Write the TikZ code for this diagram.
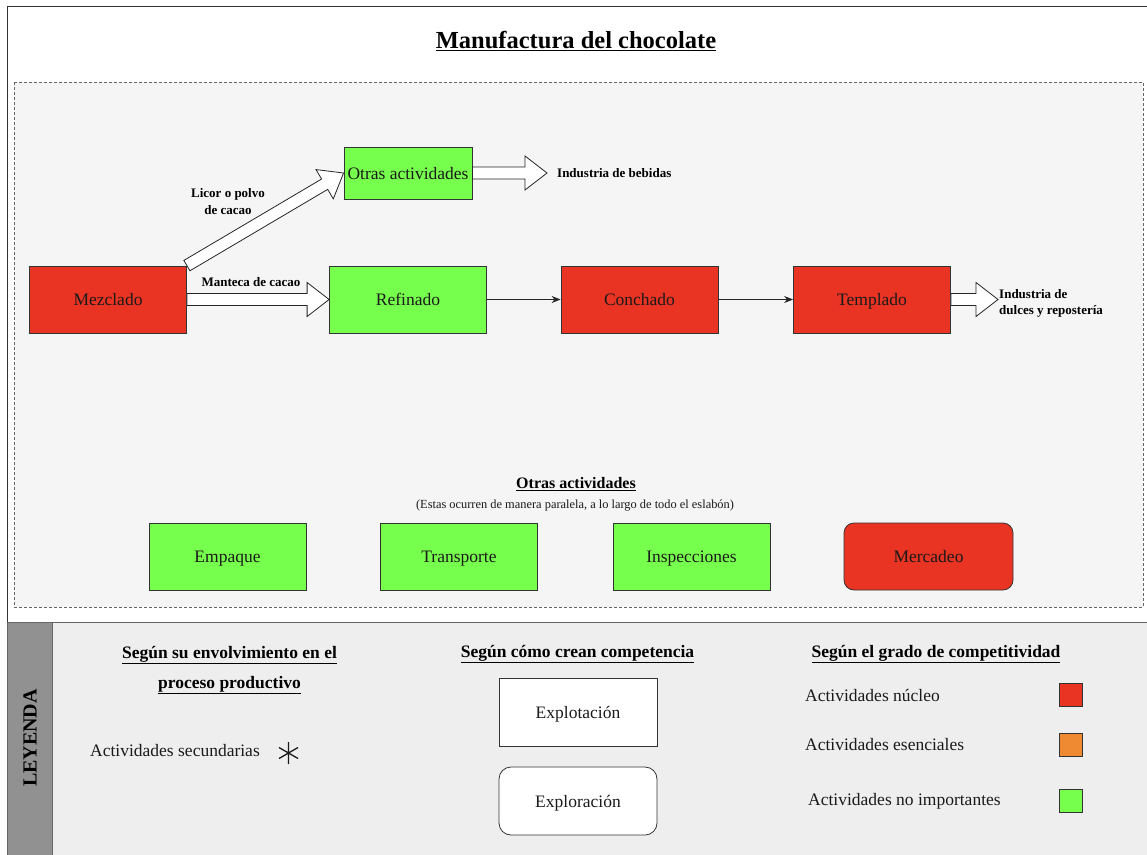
\documentclass[tikz,border=0pt]{standalone}
\usepackage{fontspec}
\setmainfont{Liberation Serif}
\usetikzlibrary{calc,arrows.meta}

\definecolor{core}{HTML}{E93323}
\definecolor{minor}{HTML}{77FF4D}
\definecolor{essential}{HTML}{EF8A33}
\definecolor{panel}{HTML}{F5F5F5}
\definecolor{legendbg}{HTML}{EEEEEE}
\definecolor{strip}{HTML}{919191}
\definecolor{ink}{HTML}{1A1A1A}

\tikzset{
  stagebox/.style={draw=black!80, line width=0.8pt, minimum width=157pt, minimum height=67pt,
    inner sep=0pt, text height=16pt, text depth=4pt, text=ink,
    font=\fontsize{17.5}{20}\selectfont},
  corestage/.style={stagebox, fill=core},
  minorstage/.style={stagebox, fill=minor},
  fatarrow/.style={draw=black!85, fill=white, line width=0.8pt, line join=miter},
  thinarrow/.style={draw=black!85, line width=0.8pt, -{Stealth[length=9pt,width=7pt]}},
  flowlbl/.style={inner sep=0pt, font=\bfseries\fontsize{13}{17}\selectfont},
  legendhead/.style={inner sep=0pt, font=\bfseries\fontsize{17.5}{30}\selectfont},
  legendtxt/.style={inner sep=0pt, text=ink, font=\fontsize{17.5}{20}\selectfont},
  swatch/.style={draw=black!80, line width=0.8pt, minimum width=23pt, minimum height=23pt, inner sep=0pt},
}

% hollow block arrow from #1 to #2 (shaft half-width 6, head 22 long, 17 half-wide)
\newcommand\fatarrow[2]{%
  \draw[fatarrow] let \p1=(#1), \p2=(#2),
      \n1={atan2(\y2-\y1,\x2-\x1)}, \n2={veclen(\x2-\x1,\y2-\y1)} in
    {[shift={(\p1)}, rotate=\n1]
      (0,6) -- (\n2-22,6) -- (\n2-22,17) -- (\n2,0) -- (\n2-22,-17) -- (\n2-22,-6) -- (0,-6) -- cycle};}

\begin{document}
\begin{tikzpicture}[x=1pt,y=-1pt]
\useasboundingbox (0,0) rectangle (1147,854);
\fill[white] (0,0) rectangle (1147,854);

% outer frame and panels
\draw[black!80, line width=1pt] (7,6) rectangle (1160,870);
\draw[black!60, fill=panel, line width=0.8pt, dash pattern=on 3pt off 2pt] (14,82) rectangle (1143,607);
\draw[black!60, fill=legendbg, line width=1pt] (7,622) rectangle (1160,870);
\draw[black!60, fill=strip, line width=1pt] (7,622) rectangle (52,870);
\node[rotate=90, inner sep=0pt, font=\bfseries\fontsize{20}{22}\selectfont] (leyenda) at (30,738) {LEYENDA};

% title
\node[inner sep=0pt, font=\bfseries\fontsize{24.5}{28}\selectfont] (title) at (576,41) {\underline{Manufactura del chocolate}};

% value chain stages
\node[corestage] (mezclado) at (108,299.5) {Mezclado};
\node[minorstage, minimum width=128pt, minimum height=52pt] (otras) at (408,173) {Otras actividades};
\node[minorstage] (refinado) at (408,299.5) {Refinado};
\node[corestage] (conchado) at (639.5,299.5) {Conchado};
\node[corestage] (templado) at (872,299.5) {Templado};

\coordinate (bebidasTip) at (547,173);
\coordinate (dulcesTip) at (998,299.5);

\fatarrow{mezclado.north east}{otras.west}
\fatarrow{mezclado.east}{refinado.west}
\fatarrow{otras.east}{bebidasTip}
\fatarrow{templado.east}{dulcesTip}
\draw[thinarrow] (refinado) -- (conchado);
\draw[thinarrow] (conchado) -- (templado);

\node[flowlbl, align=center] (licor) at (228,202) {Licor o polvo\\de cacao};
\node[flowlbl] (manteca) at (251,282) {Manteca de cacao};
\node[flowlbl, anchor=west] (bebidas) at (557,173) {Industria de bebidas};
\node[flowlbl, anchor=west, align=left, font=\bfseries\fontsize{13}{16}\selectfont] (dulces) at (999,303) {Industria de\\dulces y repostería};

% parallel activities
\node[inner sep=0pt, font=\bfseries\fontsize{16}{18}\selectfont] (otrashead) at (576,484) {\underline{Otras actividades}};
\node[inner sep=0pt, text=ink, font=\fontsize{12.4}{14}\selectfont] (otrasnote) at (575,506) {(Estas ocurren de manera paralela, a lo largo de todo el eslabón)};
\node[minorstage] (empaque) at (227.5,556.5) {Empaque};
\node[minorstage] (transporte) at (459,556.5) {Transporte};
\node[minorstage] (inspecciones) at (691.5,556.5) {Inspecciones};
\node[corestage, minimum width=169pt, rounded corners=10pt] (mercadeo) at (928.5,556.5) {Mercadeo};

% legend: involvement
\node[legendhead, align=center] (headA) at (229.5,670) {\underline{Según su envolvimiento en el}\\\underline{proceso productivo}};
\node[legendtxt] (secundarias) at (175,751) {Actividades secundarias};
\coordinate (star) at (288.5,753);
\draw[ink, line width=1.3pt]
  ($(star)+(0,-11)$) -- ($(star)+(0,11)$)
  ($(star)+(-9.5,-5.5)$) -- ($(star)+(9.5,5.5)$)
  ($(star)+(9.5,-5.5)$) -- ($(star)+(-9.5,5.5)$);

% legend: competence
\node[legendhead] (headB) at (577.5,654) {\underline{Según cómo crean competencia}};
\node[stagebox, fill=white, minimum width=158pt, minimum height=68pt] (explot) at (578,712) {Explotación};
\node[stagebox, fill=white, minimum width=158pt, minimum height=68pt, rounded corners=12pt] (explor) at (578,801) {Exploración};

% legend: competitiveness
\node[legendhead] (headC) at (936,654) {\underline{Según el grado de competitividad}};
\node[legendtxt, anchor=west] (nucleo) at (805,695) {Actividades núcleo};
\node[legendtxt, anchor=west] (esenciales) at (805,745) {Actividades esenciales};
\node[legendtxt, anchor=west] (noimp) at (808,801) {Actividades no importantes};
\node[swatch, fill=core] (swcore) at (1070.5,694.5) {};
\node[swatch, fill=essential] (swess) at (1070.5,745) {};
\node[swatch, fill=minor] (swminor) at (1070.5,800.5) {};
\end{tikzpicture}
\end{document}
